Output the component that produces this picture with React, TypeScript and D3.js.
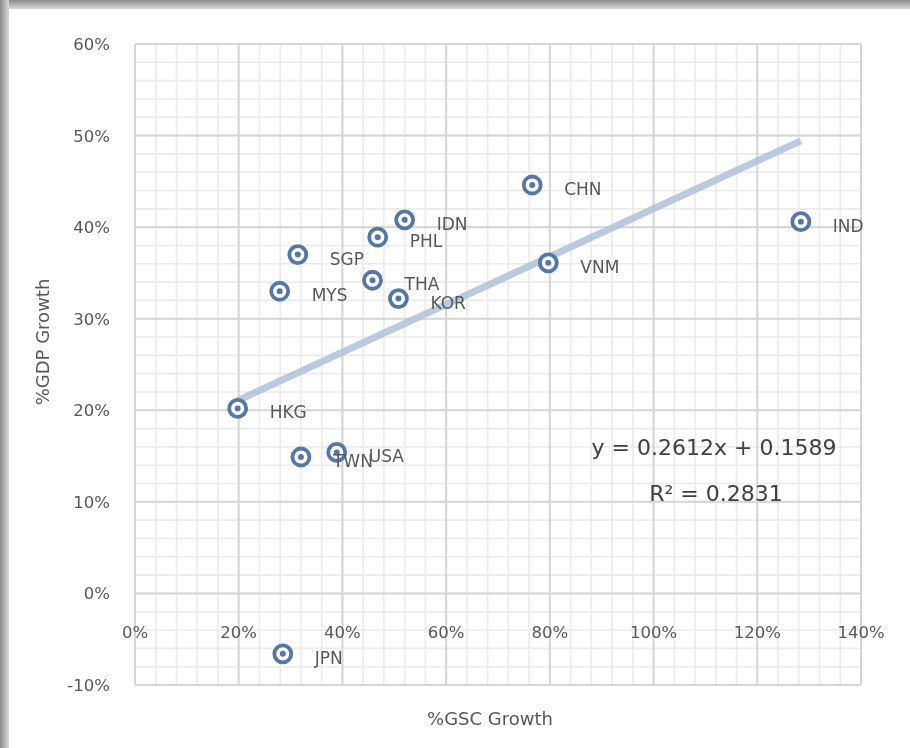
import React from "react";
import * as d3 from "d3";

const countries = ["HKG", "TWN", "USA", "JPN", "MYS", "SGP", "THA", "KOR", "PHL", "IDN", "CHN", "VNM", "IND"];
const gscGrowth = [0.198, 0.32, 0.389, 0.285, 0.279, 0.314, 0.458, 0.508, 0.468, 0.52, 0.766, 0.797, 1.284];
const gdpGrowth = [0.202, 0.149, 0.154, -0.066, 0.33, 0.37, 0.342, 0.322, 0.389, 0.408, 0.446, 0.361, 0.406];
const xTicks = [0, 0.2, 0.4, 0.6, 0.8, 1.0, 1.2, 1.4];
const yTicks = [-0.1, 0, 0.1, 0.2, 0.3, 0.4, 0.5, 0.6];
const slope = 0.2612;
const intercept = 0.1589;
const eqText = "y = 0.2612x + 0.1589";
const r2Text = "R² = 0.2831";

const W = 910;
const H = 748;

export default function App() {
  const x = d3.scaleLinear().domain([0, 1.4]).range([135, 861]);
  const y = d3.scaleLinear().domain([-0.1, 0.6]).range([685, 44]);
  const fmt = (v: number) => d3.format(".0%")(v).replace("−", "-");
  const xMinor = d3.range(0, 1.4001, 0.04);
  const yMinor = d3.range(-0.1, 0.6001, 0.02);
  const xmin = d3.min(gscGrowth) as number;
  const xmax = d3.max(gscGrowth) as number;
  const tl = d3.line<number>().x((v) => x(v)).y((v) => y(slope * v + intercept));
  const font = "'DejaVu Sans', sans-serif";
  const txt = "#595959";
  const mk = "#5677a6";
  return (
    <svg width={W} height={H} style={{ position: "absolute", left: 0, top: 0, background: "#fff" }}>
      <defs>
        <linearGradient id="lg" x1="0" x2="1" y1="0" y2="0">
          <stop offset="0" stopColor="#8a8a8a" />
          <stop offset="1" stopColor="#d8d8d8" />
        </linearGradient>
        <linearGradient id="tg" x1="0" x2="0" y1="0" y2="1">
          <stop offset="0" stopColor="#8a8a8a" />
          <stop offset="1" stopColor="#d8d8d8" />
        </linearGradient>
        <filter id="bl" x="-10%" y="-10%" width="120%" height="120%">
          <feGaussianBlur stdDeviation="0.6" />
        </filter>
        <filter id="tb" x="-10%" y="-10%" width="120%" height="120%">
          <feGaussianBlur stdDeviation="0.35" />
        </filter>
      </defs>
      <rect x={0} y={0} width={W} height={H} fill="#fff" />
      <rect x={0} y={0} width={W} height={9} fill="url(#tg)" />
      <rect x={0} y={0} width={9} height={H} fill="url(#lg)" />
      <g filter="url(#bl)">
        {xMinor.map((v, i) => (
          <line key={"xm" + i} x1={x(v)} x2={x(v)} y1={y(0.6)} y2={y(-0.1)} stroke="#ebebeb" strokeWidth={1.6} />
        ))}
        {yMinor.map((v, i) => (
          <line key={"ym" + i} x1={x(0)} x2={x(1.4)} y1={y(v)} y2={y(v)} stroke="#ebebeb" strokeWidth={1.6} />
        ))}
        {xTicks.map((v, i) => (
          <line key={"xg" + i} x1={x(v)} x2={x(v)} y1={y(0.6)} y2={y(-0.1)} stroke="#d6d6d6" strokeWidth={2} />
        ))}
        {yTicks.map((v, i) => (
          <line key={"yg" + i} x1={x(0)} x2={x(1.4)} y1={y(v)} y2={y(v)} stroke="#d6d6d6" strokeWidth={2} />
        ))}
        <path d={tl([xmin, xmax]) || ""} stroke="#afc1d8" strokeOpacity={0.85} strokeWidth={7} fill="none" />
        {countries.map((c, i) => (
          <g key={c}>
            <circle cx={x(gscGrowth[i])} cy={y(gdpGrowth[i])} r={8.5} fill="#fff" stroke={mk} strokeWidth={3.8} />
            <circle cx={x(gscGrowth[i])} cy={y(gdpGrowth[i])} r={3} fill={mk} />
          </g>
        ))}
      </g>
      <g filter="url(#tb)">
        {countries.map((c, i) => (
          <text key={"l" + c} x={x(gscGrowth[i]) + 32} y={y(gdpGrowth[i]) + 10} fontFamily={font} fontSize={17} fill={txt}>
            {c}
          </text>
        ))}
        {yTicks.map((v, i) => (
          <text key={"yt" + i} x={110} y={y(v) + 6} textAnchor="end" fontFamily={font} fontSize={16.5} fill={txt}>
            {fmt(v)}
          </text>
        ))}
        {xTicks.map((v, i) => (
          <text key={"xt" + i} x={x(v)} y={y(0) + 45} textAnchor="middle" fontFamily={font} fontSize={16.5} fill={txt}>
            {fmt(v)}
          </text>
        ))}
        <text x={490} y={725} textAnchor="middle" fontFamily={font} fontSize={18} fill={txt}>%GSC Growth</text>
        <text transform="translate(49,342) rotate(-90)" textAnchor="middle" fontFamily={font} fontSize={18} fill={txt}>%GDP Growth</text>
        <text x={714} y={455} textAnchor="middle" fontFamily={font} fontSize={22} fill="#404040">{eqText}</text>
        <text x={716} y={501} textAnchor="middle" fontFamily={font} fontSize={22} fill="#404040">{r2Text}</text>
      </g>
    </svg>
  );
}
